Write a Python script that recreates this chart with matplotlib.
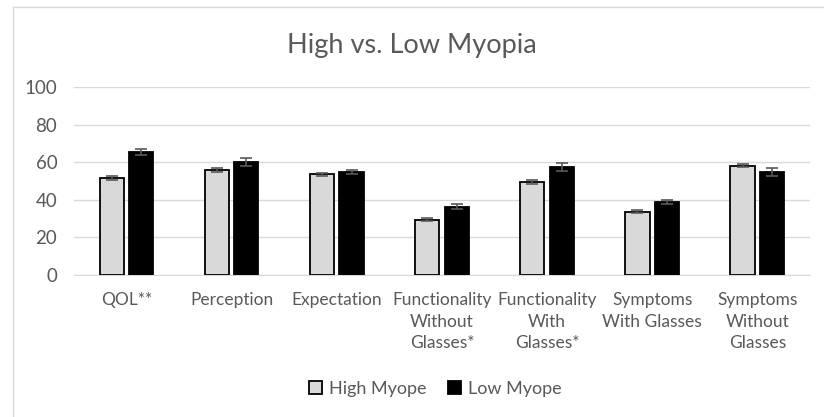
import matplotlib.pyplot as plt
import numpy as np
from matplotlib.lines import Line2D

categories = ['QOL**', 'Perception', 'Expectation', 'Functionality\nWithout\nGlasses*',
              'Functionality\nWith\nGlasses*', 'Symptoms\nWith Glasses', 'Symptoms\nWithout\nGlasses']
high_myope = [51.6, 55.9, 53.6, 29.3, 49.5, 33.7, 58.0]
low_myope = [65.4, 60.1, 54.7, 36.3, 57.4, 38.7, 54.9]
high_err = [1.0, 0.9, 0.9, 0.8, 0.9, 0.8, 0.8]
low_err = [1.4, 2.2, 1.0, 1.4, 2.0, 1.2, 2.1]

plt.rcParams['font.family'] = ['Lato', 'DejaVu Sans']

fig = plt.figure(figsize=(8.24, 4.17), dpi=100)
ax = fig.add_axes([0.0898, 0.3405, 0.893, 0.451])

x = np.arange(len(categories))
w = 0.23
ax.bar(x - 0.14, high_myope, w, color='#d9d9d9', edgecolor='black', linewidth=1.3,
       yerr=high_err, error_kw=dict(ecolor='#595959', capsize=4, elinewidth=1.2, capthick=1.2),
       label='High Myope', zorder=3)
ax.bar(x + 0.14, low_myope, w, color='black', edgecolor='black', linewidth=1.3,
       yerr=low_err, error_kw=dict(ecolor='#595959', capsize=4, elinewidth=1.2, capthick=1.2),
       label='Low Myope', zorder=3)

ax.set_ylim(0, 100)
ax.set_yticks(range(0, 101, 20))
ax.set_xlim(-0.5, len(categories) - 0.5)
ax.set_xticks(x)
ax.set_xticklabels(categories, fontsize=12.5, color='#595959', linespacing=1.45)
ax.tick_params(axis='y', labelsize=13.5, labelcolor='#595959', length=0, pad=12)
ax.tick_params(axis='x', length=0, pad=12)
ax.grid(axis='y', color='#d9d9d9', linewidth=1, zorder=0)
for s in ['top', 'right', 'left']:
    ax.spines[s].set_visible(False)
ax.spines['bottom'].set_color('#d9d9d9')

fig.text(0.5, 0.89, 'High vs. Low Myopia', ha='center', va='center', fontsize=19.5, color='#595959')
fig.legend(loc='center', bbox_to_anchor=(0.528, 0.068), ncol=2, frameon=False,
           fontsize=13, labelcolor='#595959', handlelength=0.75, handleheight=0.75,
           columnspacing=1.2, handletextpad=0.35)

# chart frame (only left and top edges visible)
fig.add_artist(Line2D([13 / 824, 13 / 824], [0, 1 - 7 / 417], transform=fig.transFigure,
                      color='#d9d9d9', linewidth=1))
fig.add_artist(Line2D([13 / 824, 1], [1 - 7 / 417, 1 - 7 / 417], transform=fig.transFigure,
                      color='#d9d9d9', linewidth=1))

fig.savefig('out.png', dpi=100)
